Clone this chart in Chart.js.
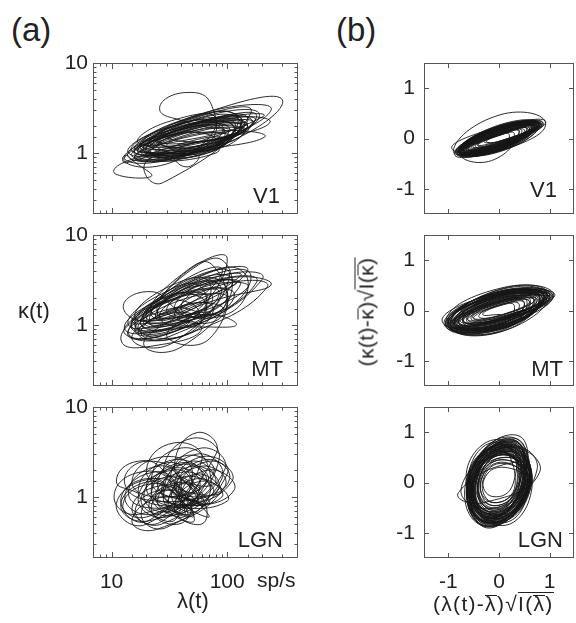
<!DOCTYPE html>
<html>
<head>
<meta charset="utf-8">
<script src="https://cdn.jsdelivr.net/npm/chart.js@4.4.1/dist/chart.umd.min.js"></script>
<style>
  body { margin: 0; background: #fff; }
  #fig { position: relative; width: 576px; height: 623px; overflow: hidden; font-family: 'Liberation Sans', Arial, Helvetica, sans-serif; color: #222; }
  .txt { position: absolute; white-space: nowrap; line-height: 1; }
  .bar, .sq { position: relative; }
  .bar::before, .sq::before { content: ''; position: absolute; left: 0; right: 0; border-top: 1px solid #222; }
  .bar::before { top: 0.15em; }
  .sq::before { top: 0.02em; }
</style>
</head>
<body>
<div id="fig">
  <div class="txt" style="left:11px;top:13px;font-size:33px;">(a)</div>
  <div class="txt" style="left:336px;top:13px;font-size:33px;">(b)</div>
  <div class="txt" style="left:18px;top:300px;font-size:22px;">κ(t)</div>
  <div class="txt" style="left:177px;top:590px;font-size:22px;">λ(t)</div>
  <div class="txt" style="left:257px;top:569px;font-size:21px;">sp/s</div>
  <div class="txt" style="left:433px;top:593px;font-size:21px;letter-spacing:1.3px;">(λ(t)-<span class="bar">λ</span>)√<span class="sq">I(<span class="bar">λ</span>)</span></div>
  <div class="txt" style="left:366px;top:312px;font-size:21px;letter-spacing:0.4px;transform:translate(-50%,-50%) rotate(-90deg);">(κ(t)-<span class="bar">κ</span>)√<span class="sq">I(<span class="bar">κ</span>)</span></div>
</div>
<script>
'use strict';

// (a) rate lambda (sp/s) against kappa, traced path per area, one loop per line
var v1Path = [
  [120,2.3],[35,1.9],[16,0.95],[60,1.05],
  [150,2.5],[45,2.0],[18,1.0],[70,1.15],
  [100,2.0],[30,1.75],[14,0.9],[50,1.0],
  [135,2.35],[42,2.0],[17,1.0],[62,1.1],
  [180,2.6],[60,2.2],[20,1.1],[80,1.2],
  [130,2.1],[40,1.7],[17,1.05],[65,1.25],
  [74,3.3],[44,4.7],[26,3.1],[45,2.2],
  [95,1.75],[32,1.55],[15,0.92],[48,1.0],
  [90,1.9],[28,1.6],[13,0.85],[45,0.95],
  [175,2.3],[58,2.05],[22,1.15],[85,1.2],
  [300,3.9],[60,2.7],[22,1.25],[140,1.7],
  [115,2.0],[38,1.8],[17,1.1],[58,1.15],
  [110,1.8],[35,1.55],[16,0.85],[55,0.95],
  [45,0.7],[28,0.95],[19,0.68],[28,0.47],
  [160,2.8],[50,2.4],[21,1.2],[78,1.3],
  [140,2.2],[50,1.9],[20,1.05],[75,1.1],
  [105,1.6],[36,1.4],[16,0.88],[52,0.92],
  [90,1.5],[25,1.05],[10.4,0.63],[22,0.55],
  [14.6,0.86],[13.5,0.95],[12.4,0.86],[13.5,0.78],
  [200,2.5],[70,2.3],[26,1.3],[100,1.3],
  [160,2.4],[55,2.1],[19,1.1],[80,1.1],
  [85,2.1],[28,1.85],[14,1.0],[42,1.05],
  [210,1.5],[80,1.75],[30,1.2],[90,1.15],
  [145,2.2],[48,1.95],[19,1.05],[72,1.1],
  [120,2.6],[40,2.3],[18,1.2],[60,1.3],
  [170,2.2],[60,2.0],[25,1.15],[90,1.2],
  [125,2.6],[40,2.25],[19,1.25],[64,1.35],
  [235,2.2],[80,2.4],[30,1.5],[110,1.5],
  [100,2.2],[30,1.9],[15,1.05],[50,1.15],
  [240,3.0],[70,2.9],[24,1.4],[110,1.5],
  [140,1.9],[45,1.6],[20,0.9],[80,1.0],
  [70,1.6],[24,1.4],[13,0.8],[38,0.85],
  [80,2.4],[30,2.2],[17,1.3],[45,1.4],
  [150,2.1],[52,1.85],[21,1.0],[76,1.05],
  [125,2.4],[40,2.1],[18,1.1],[70,1.2],
  [190,2.7],[60,2.5],[25,1.3],[95,1.4],
  [110,2.3],[36,2.0],[16,1.1],[56,1.2],
  [150,2.0],[50,1.75],[22,1.0],[75,1.05],
  [110,2.1],[35,1.85],[16,1.0],[60,1.1]
];
var mtPath = [
  [100,3.2],[30,2.0],[14,0.75],[45,1.0],
  [34,1.6],[21,2.35],[12.6,1.6],[21,1.14],
  [130,3.5],[45,2.6],[16,0.85],[55,1.1],
  [85,2.8],[30,2.2],[15,0.95],[42,1.1],
  [100,5.5],[40,3.5],[22,1.0],[70,1.8],
  [240,2.8],[90,3.2],[40,1.5],[110,1.4],
  [140,3.8],[55,3.4],[22,1.3],[65,1.5],
  [70,2.2],[22,1.5],[12.2,0.65],[30,0.62],
  [60,0.9],[35,1.1],[19,0.6],[40,0.57],
  [100,2.2],[38,2.0],[16,0.95],[50,0.95],
  [120,1.0],[60,1.3],[30,0.75],[70,0.7],
  [90,3.0],[28,2.0],[15,0.9],[45,1.05],
  [70,3.0],[30,2.6],[16,1.2],[40,1.4],
  [150,4.0],[60,3.5],[25,1.3],[70,1.6],
  [80,2.5],[25,1.7],[13,0.8],[40,0.9],
  [180,3.0],[70,3.0],[30,1.4],[85,1.4],
  [110,2.4],[40,2.1],[18,1.0],[55,1.0],
  [55,1.4],[26,1.4],[14,0.8],[32,0.75],
  [200,3.2],[80,3.4],[35,1.5],[90,1.5],
  [95,5.0],[45,3.8],[25,1.4],[60,2.0],
  [120,3.0],[45,2.6],[19,1.05],[58,1.25],
  [60,2.0],[28,2.0],[16,1.0],[35,0.95],
  [130,2.8],[50,2.6],[20,1.1],[60,1.2],
  [90,1.6],[38,1.6],[18,0.8],[45,0.78],
  [75,1.6],[35,1.5],[17,0.8],[40,0.75],
  [220,2.6],[90,2.8],[35,1.3],[90,1.25],
  [75,4.6],[40,3.6],[22,1.4],[50,1.8],
  [90,4.2],[40,3.0],[20,1.2],[50,1.5],
  [65,2.2],[26,1.9],[13,0.9],[33,0.95],
  [100,2.0],[40,1.9],[17,0.9],[50,0.85],
  [60,2.6],[25,2.1],[14,1.0],[33,1.1],
  [150,2.6],[60,2.6],[26,1.2],[70,1.15],
  [160,3.6],[60,3.2],[24,1.2],[70,1.4],
  [70,1.3],[30,1.3],[15,0.7],[35,0.65],
  [105,3.6],[42,3.0],[19,1.15],[58,1.45],
  [110,3.3],[40,2.7],[18,1.0],[55,1.3],
  [45,1.8],[25,1.7],[15,1.1],[28,1.05]
];
var lgnPath = [
  [60,1.2],[35,2.0],[17,1.0],[30,0.6],
  [90,1.6],[55,3.0],[28,1.2],[45,0.75],
  [55,1.1],[33,1.7],[18,0.95],[30,0.62],
  [45,0.9],[25,1.6],[11,0.85],[20,0.5],
  [80,3.0],[55,5.2],[35,2.3],[50,1.4],
  [80,1.5],[50,2.5],[27,1.2],[45,0.8],
  [115,1.2],[70,2.0],[40,1.0],[70,0.6],
  [42,1.2],[24,1.9],[13,1.0],[23,0.65],
  [40,1.5],[20,2.5],[13,1.4],[25,0.9],
  [70,1.2],[42,1.9],[24,1.0],[40,0.65],
  [50,0.7],[28,1.0],[15,0.55],[25,0.44],
  [95,1.3],[60,2.2],[33,1.05],[55,0.7],
  [70,2.0],[40,3.5],[22,1.6],[35,1.0],
  [50,1.5],[30,2.4],[17,1.2],[28,0.8],
  [100,0.9],[60,1.5],[35,0.75],[60,0.5],
  [62,0.95],[38,1.45],[21,0.8],[35,0.55],
  [35,1.3],[18,1.9],[10.5,1.0],[18,0.65],
  [75,1.8],[45,2.9],[25,1.4],[42,0.95],
  [85,1.3],[50,2.2],[28,1.0],[45,0.6],
  [38,0.95],[22,1.4],[12.5,0.8],[21,0.55],
  [60,2.5],[35,4.0],[20,2.0],[32,1.3],
  [88,1.1],[55,1.8],[31,0.9],[50,0.6],
  [45,0.8],[28,1.2],[16,0.7],[27,0.5],
  [58,1.3],[35,2.1],[19,1.05],[32,0.7],
  [95,2.0],[60,3.5],[32,1.6],[55,1.0],
  [105,1.6],[65,2.6],[36,1.25],[60,0.85],
  [70,0.9],[40,1.4],[22,0.75],[38,0.5],
  [48,0.9],[28,1.35],[15,0.75],[26,0.52],
  [50,1.8],[28,2.8],[15,1.5],[26,1.0],
  [68,1.5],[40,2.4],[22,1.2],[38,0.8],
  [110,1.5],[70,2.5],[38,1.2],[65,0.8],
  [40,1.0],[22,1.5],[12,0.8],[22,0.55],
  [65,1.4],[40,2.3],[22,1.1],[35,0.7],
  [85,2.6],[50,4.5],[28,2.0],[45,1.4],
  [55,0.8],[32,1.2],[18,0.65],[30,0.46],
  [100,1.8],[60,2.8],[35,1.3],[60,0.9],
  [45,1.4],[25,2.2],[14,1.1],[25,0.75],
  [75,1.1],[45,1.7],[25,0.9],[42,0.6],
  [35,1.1],[20,1.6],[12,0.9],[20,0.6],
  [60,1.6],[35,2.6],[20,1.3],[33,0.85],
  [90,1.0],[55,1.6],[30,0.8],[52,0.55],
  [30,1.8],[17,2.5],[11,1.5],[17,1.1]
];

// (b) normalised deviations, same areas
var v1Norm = [
  [0.75,0.27],[-0.04,0.17],[-0.75,-0.25],[0.04,-0.16],
  [0.70,0.24],[-0.03,0.08],[-0.70,-0.24],[0.03,-0.08],
  [0.76,0.24],[-0.08,0.22],[-0.76,-0.28],[0.08,-0.22],
  [0.60,0.20],[-0.03,0.07],[-0.62,-0.21],[0.03,-0.07],
  [0.70,0.25],[-0.05,0.15],[-0.72,-0.24],[0.05,-0.14],
  [0.68,0.28],[-0.06,0.20],[-0.70,-0.22],[0.06,-0.20],
  [0.50,0.17],[-0.02,0.06],[-0.52,-0.17],[0.02,-0.06],
  [0.82,0.30],[-0.06,0.19],[-0.80,-0.27],[0.06,-0.18],
  [0.60,0.22],[-0.03,0.12],[-0.62,-0.20],[0.03,-0.12],
  [0.75,0.26],[-0.04,0.10],[-0.76,-0.27],[0.04,-0.10],
  [0.80,0.30],[-0.07,0.23],[-0.80,-0.26],[0.07,-0.23],
  [0.92,0.30],[0.02,0.47],[-0.90,-0.24],[-0.05,-0.20],
  [0.78,0.26],[-0.05,0.20],[-0.78,-0.27],[-0.15,-0.44],
  [0.40,0.14],[-0.02,0.05],[-0.42,-0.13],[0.02,-0.05],
  [0.58,0.18],[-0.05,0.18],[-0.60,-0.22],[0.05,-0.18],
  [0.68,0.26],[-0.04,0.14],[-0.70,-0.22],[0.04,-0.13],
  [0.65,0.23],[-0.03,0.09],[-0.66,-0.23],[0.03,-0.09],
  [0.72,0.30],[-0.06,0.21],[-0.72,-0.24],[0.06,-0.21],
  [0.30,0.10],[-0.02,0.06],[-0.30,-0.06],[0.02,-0.06],
  [0.85,0.28],[-0.06,0.21],[-0.85,-0.30],[0.05,-0.20],
  [0.55,0.19],[-0.03,0.08],[-0.55,-0.18],[0.03,-0.08],
  [0.84,0.26],[-0.07,0.20],[-0.82,-0.30],[0.07,-0.22],
  [0.72,0.24],[-0.04,0.16],[-0.74,-0.26],[0.04,-0.16],
  [0.92,0.34],[-0.10,0.20],[-0.93,-0.20],[0.10,-0.22],
  [0.80,0.28],[-0.04,0.11],[-0.80,-0.28],[0.04,-0.11],
  [0.64,0.22],[-0.05,0.19],[-0.64,-0.24],[0.05,-0.18],
  [0.65,0.25],[-0.05,0.13],[-0.66,-0.22],[0.05,-0.13],
  [0.78,0.31],[-0.08,0.24],[-0.78,-0.26],[0.08,-0.24],
  [0.80,0.28],[-0.05,0.18],[-0.82,-0.28],[0.05,-0.18],
  [0.45,0.16],[-0.04,0.12],[-0.46,-0.16],[0.04,-0.12],
  [0.55,0.20],[-0.03,0.11],[-0.58,-0.19],[0.03,-0.10],
  [0.70,0.24],[-0.06,0.20],[-0.70,-0.24],[0.06,-0.20],
  [0.76,0.30],[-0.06,0.17],[-0.76,-0.25],[0.05,-0.15],
  [0.40,0.14],[-0.03,0.10],[-0.42,-0.14],[0.03,-0.10],
  [0.88,0.30],[-0.07,0.22],[-0.88,-0.32],[0.07,-0.20],
  [0.74,0.28],[-0.07,0.22],[-0.76,-0.26],[0.07,-0.22],
  [0.70,0.22],[-0.04,0.15],[-0.70,-0.25],[0.04,-0.15],
  [0.62,0.24],[-0.04,0.14],[-0.64,-0.21],[0.04,-0.12],
  [0.78,0.27],[-0.05,0.18],[-0.80,-0.27],[0.05,-0.17],
  [0.20,0.08],[-0.02,0.06],[-0.25,-0.06],[0.02,-0.05],
  [0.84,0.30],[-0.06,0.19],[-0.84,-0.28],[0.06,-0.19],
  [0.74,0.26],[-0.04,0.16],[-0.74,-0.25],[0.04,-0.15],
  [0.66,0.23],[-0.05,0.14],[-0.68,-0.24],[0.05,-0.14],
  [0.86,0.32],[-0.06,0.20],[-0.86,-0.28],[0.06,-0.19],
  [0.72,0.27],[-0.05,0.16],[-0.72,-0.26],[0.05,-0.16]
];
var mtNorm = [
  [1.00,0.30],[-0.08,0.28],[-1.00,-0.26],[0.08,-0.28],
  [0.90,0.27],[-0.04,0.14],[-0.90,-0.27],[0.04,-0.14],
  [0.90,0.30],[-0.09,0.34],[-0.90,-0.30],[0.09,-0.34],
  [0.90,0.28],[-0.07,0.24],[-0.92,-0.24],[0.07,-0.25],
  [0.75,0.22],[-0.04,0.12],[-0.76,-0.22],[0.04,-0.12],
  [1.10,0.32],[-0.10,0.32],[-1.12,-0.22],[0.10,-0.32],
  [0.78,0.22],[-0.07,0.28],[-0.80,-0.24],[0.07,-0.28],
  [0.60,0.18],[-0.03,0.10],[-0.62,-0.18],[0.03,-0.10],
  [0.70,0.22],[-0.05,0.18],[-0.72,-0.20],[0.05,-0.18],
  [0.95,0.36],[-0.05,0.40],[-0.95,-0.30],[0.05,-0.42],
  [1.00,0.30],[-0.05,0.17],[-1.00,-0.30],[0.05,-0.17],
  [1.00,0.26],[-0.08,0.36],[-1.00,-0.30],[0.08,-0.36],
  [0.85,0.24],[-0.08,0.26],[-0.88,-0.28],[0.08,-0.24],
  [0.85,0.26],[-0.05,0.18],[-0.86,-0.26],[0.05,-0.18],
  [1.05,0.28],[-0.06,0.30],[-1.05,-0.28],[0.06,-0.30],
  [0.62,0.20],[-0.06,0.22],[-0.64,-0.20],[0.06,-0.22],
  [0.40,0.12],[-0.03,0.10],[-0.40,-0.12],[0.03,-0.10],
  [0.70,0.21],[-0.04,0.15],[-0.70,-0.21],[0.04,-0.15],
  [0.95,0.30],[-0.08,0.32],[-0.98,-0.26],[0.08,-0.30],
  [0.95,0.32],[-0.09,0.38],[-0.96,-0.30],[0.09,-0.40],
  [0.80,0.26],[-0.06,0.22],[-0.80,-0.24],[0.06,-0.22],
  [0.95,0.29],[-0.05,0.20],[-0.95,-0.29],[0.05,-0.20],
  [1.08,0.30],[0.10,0.46],[-1.05,-0.20],[-0.10,-0.44],
  [0.72,0.24],[-0.06,0.26],[-0.72,-0.22],[0.06,-0.26],
  [0.50,0.15],[-0.03,0.09],[-0.50,-0.15],[0.03,-0.09],
  [0.60,0.18],[-0.05,0.16],[-0.62,-0.18],[0.05,-0.16],
  [0.92,0.27],[-0.07,0.28],[-0.92,-0.28],[0.07,-0.28],
  [1.06,0.30],[-0.09,0.34],[-1.08,-0.28],[0.09,-0.34],
  [0.80,0.24],[-0.04,0.16],[-0.80,-0.24],[0.04,-0.16],
  [1.00,0.34],[-0.08,0.30],[-1.00,-0.22],[0.08,-0.34],
  [0.55,0.18],[-0.05,0.17],[-0.55,-0.16],[0.05,-0.17],
  [0.75,0.22],[-0.06,0.22],[-0.78,-0.24],[0.06,-0.20],
  [0.98,0.28],[-0.09,0.34],[-1.02,-0.26],[0.09,-0.34],
  [0.88,0.28],[-0.08,0.32],[-0.88,-0.28],[0.08,-0.32],
  [0.88,0.30],[-0.06,0.26],[-0.88,-0.26],[0.06,-0.26],
  [0.50,0.16],[-0.04,0.13],[-0.52,-0.14],[0.04,-0.13],
  [1.05,0.32],[-0.08,0.36],[-1.05,-0.30],[0.08,-0.36],
  [0.80,0.28],[-0.07,0.30],[-0.82,-0.26],[0.07,-0.30],
  [0.82,0.24],[-0.06,0.24],[-0.84,-0.26],[0.06,-0.24],
  [0.95,0.28],[-0.07,0.30],[-0.95,-0.24],[0.07,-0.30],
  [0.68,0.22],[-0.05,0.20],[-0.70,-0.20],[0.05,-0.19],
  [1.02,0.30],[-0.08,0.30],[-1.02,-0.30],[0.08,-0.32],
  [0.86,0.26],[-0.07,0.26],[-0.86,-0.26],[0.07,-0.26],
  [0.30,0.10],[-0.03,0.08],[-0.32,-0.08],[0.03,-0.08]
];
var lgnNorm = [
  [0.20,0.80],[-0.55,0.05],[-0.20,-0.80],[0.55,-0.05],
  [0.14,0.55],[-0.40,0.05],[-0.14,-0.55],[0.40,-0.05],
  [0.00,0.85],[-0.65,0.10],[0.00,-0.85],[0.65,-0.10],
  [0.18,0.72],[-0.50,0.06],[-0.18,-0.72],[0.50,-0.06],
  [0.15,0.70],[-0.50,0.00],[-0.18,-0.72],[0.50,0.02],
  [-0.10,0.80],[-0.60,-0.10],[0.10,-0.80],[0.60,0.10],
  [0.18,0.62],[-0.45,0.06],[-0.18,-0.64],[0.45,-0.06],
  [0.22,0.80],[-0.56,0.08],[-0.22,-0.80],[0.56,-0.08],
  [0.25,0.90],[-0.60,0.10],[-0.25,-0.88],[0.60,-0.08],
  [0.12,0.45],[-0.35,0.04],[-0.12,-0.46],[0.35,-0.04],
  [0.05,0.75],[-0.64,0.02],[-0.05,-0.78],[0.64,-0.02],
  [0.16,0.64],[-0.52,0.03],[-0.16,-0.66],[0.52,-0.03],
  [0.10,0.55],[-0.40,0.02],[-0.12,-0.55],[0.40,0.00],
  [0.30,0.40],[-0.80,-0.20],[-0.30,-0.40],[0.80,0.20],
  [0.20,0.70],[-0.42,0.10],[-0.20,-0.70],[0.42,-0.10],
  [0.24,0.76],[-0.60,0.10],[-0.24,-0.78],[0.60,-0.10],
  [0.22,0.78],[-0.58,0.08],[-0.20,-0.82],[0.56,-0.06],
  [0.10,0.38],[-0.32,0.03],[-0.10,-0.40],[0.32,-0.03],
  [-0.05,0.70],[-0.62,-0.05],[0.05,-0.72],[0.62,0.05],
  [0.14,0.50],[-0.44,0.04],[-0.14,-0.52],[0.44,-0.04],
  [0.18,0.65],[-0.48,0.04],[-0.16,-0.66],[0.48,-0.02],
  [0.35,0.94],[-0.55,0.20],[-0.30,-0.85],[0.62,-0.10],
  [0.16,0.58],[-0.40,0.05],[-0.16,-0.58],[0.40,-0.05],
  [0.20,0.68],[-0.54,0.05],[-0.20,-0.68],[0.54,-0.05],
  [0.12,0.30],[-0.30,0.05],[-0.12,-0.28],[0.28,-0.02],
  [0.20,0.75],[-0.62,0.00],[-0.22,-0.76],[0.60,0.00],
  [0.22,0.66],[-0.48,0.08],[-0.22,-0.68],[0.48,-0.08],
  [0.26,0.86],[-0.58,0.12],[-0.26,-0.86],[0.58,-0.12],
  [0.00,0.62],[-0.58,0.04],[0.00,-0.64],[0.58,-0.04],
  [0.25,0.85],[-0.50,0.10],[-0.25,-0.90],[0.50,-0.10],
  [0.12,0.40],[-0.36,0.03],[-0.12,-0.40],[0.36,-0.03],
  [0.15,0.60],[-0.55,-0.05],[-0.15,-0.62],[0.55,0.05],
  [0.14,0.50],[-0.38,0.04],[-0.14,-0.50],[0.38,-0.04],
  [0.22,0.74],[-0.56,0.06],[-0.22,-0.76],[0.56,-0.06],
  [0.20,0.72],[-0.52,0.06],[-0.20,-0.70],[0.52,-0.04],
  [0.05,0.55],[-0.75,-0.15],[-0.05,-0.50],[0.75,0.25],
  [0.24,0.72],[-0.50,0.10],[-0.24,-0.74],[0.50,-0.10],
  [-0.08,0.66],[-0.56,-0.06],[0.08,-0.68],[0.56,0.06],
  [0.18,0.62],[-0.48,0.04],[-0.18,-0.62],[0.48,-0.04],
  [0.28,0.82],[-0.58,0.12],[-0.26,-0.80],[0.58,-0.10],
  [0.18,0.68],[-0.46,0.04],[-0.18,-0.70],[0.46,-0.03],
  [0.24,0.82],[-0.60,0.08],[-0.24,-0.80],[0.60,-0.08],
  [0.22,0.76],[-0.60,0.06],[-0.22,-0.78],[0.60,-0.05],
  [0.10,0.45],[-0.42,0.00],[-0.10,-0.46],[0.42,0.00],
  [0.16,0.56],[-0.50,0.02],[-0.16,-0.58],[0.50,-0.02],
  [0.24,0.80],[-0.54,0.08],[-0.24,-0.84],[0.54,-0.08],
  [0.16,0.62],[-0.50,0.02],[-0.16,-0.64],[0.50,-0.02],
  [0.30,0.88],[-0.62,0.12],[-0.30,-0.86],[0.62,-0.12],
  [0.20,0.74],[-0.56,0.05],[-0.20,-0.74],[0.56,-0.05],
  [0.14,0.58],[-0.46,0.02],[-0.14,-0.60],[0.46,-0.02],
  [0.26,0.84],[-0.58,0.10],[-0.26,-0.82],[0.58,-0.08],
  [0.20,0.70],[-0.52,0.04],[-0.20,-0.72],[0.52,-0.04]
];

var rateTicks = [10, 100];
var kappaTicks = [1, 10];
var normTicks = [-1, 0, 1];
var areaNames = ['V1', 'MT', 'LGN'];

var FONT = "'Liberation Sans', Arial, Helvetica, sans-serif";
var PAD_TOP = 14;

// box frame with inward ticks on all four sides, plus the area name
var frameTicks = {
  id: 'frameTicks',
  afterDraw: function (chart, args, opts) {
    var ctx = chart.ctx, a = chart.chartArea;
    var sx = chart.scales.x, sy = chart.scales.y;
    function len(v) {
      if (!opts.log) return 5;
      var l = Math.log10(v);
      return Math.abs(l - Math.round(l)) < 1e-6 ? 6 : 3.5;
    }
    ctx.save();
    ctx.strokeStyle = '#555';
    ctx.lineWidth = 1;
    ctx.beginPath();
    sx.ticks.forEach(function (t) {
      var p = Math.round(sx.getPixelForValue(t.value)) + 0.5;
      if (p < a.left + 2 || p > a.right - 2) return;
      ctx.moveTo(p, a.bottom); ctx.lineTo(p, a.bottom - len(t.value));
      ctx.moveTo(p, a.top); ctx.lineTo(p, a.top + len(t.value));
    });
    sy.ticks.forEach(function (t) {
      var p = Math.round(sy.getPixelForValue(t.value)) + 0.5;
      if (p < a.top + 2 || p > a.bottom - 2) return;
      ctx.moveTo(a.left, p); ctx.lineTo(a.left + len(t.value), p);
      ctx.moveTo(a.right, p); ctx.lineTo(a.right - len(t.value), p);
    });
    ctx.stroke();
    ctx.strokeRect(a.left + 0.5, a.top + 0.5, a.width - 1, a.height - 1);
    ctx.fillStyle = '#222';
    ctx.font = '22px ' + FONT;
    ctx.textAlign = 'right';
    ctx.textBaseline = 'alphabetic';
    ctx.fillText(opts.name, a.right - opts.inset, a.bottom - opts.up);
    ctx.restore();
  }
};

function labelIf(list) {
  return function (v) {
    for (var i = 0; i < list.length; i++) {
      if (Math.abs(list[i] - v) < 1e-9) return String(list[i]);
    }
    return '';
  };
}

function fixSize(size, horizontal) {
  return function (s) {
    if (horizontal) s.height = size; else s.width = size;
    s.paddingLeft = 0; s.paddingRight = 0; s.paddingTop = 0; s.paddingBottom = 0;
  };
}

// linear panels get exactly the listed ticks
function fixedTicks(list) {
  return function (s) {
    s.ticks = list.map(function (v) { return { value: v }; });
  };
}

function addPanel(p) {
  var xh = p.showX ? 42 : 0;
  var padBottom = p.showX ? 0 : 12;
  var w = p.yw + p.plotW;
  var h = PAD_TOP + p.plotH + xh + padBottom;
  var c = document.createElement('canvas');
  c.width = w; c.height = h;
  c.style.cssText = 'position:absolute;left:' + (p.plotLeft - p.yw) + 'px;top:' + (p.plotTop - PAD_TOP) +
    'px;width:' + w + 'px;height:' + h + 'px;';
  var fig = document.getElementById('fig');
  fig.insertBefore(c, fig.firstChild);

  var tickFont = { family: FONT, size: 21 };
  new Chart(c, {
    type: 'scatter',
    data: {
      datasets: [{
        data: p.data,
        showLine: true,
        borderColor: '#151515',
        borderWidth: 0.9,
        pointRadius: 0,
        tension: 0.55,
        fill: false
      }]
    },
    options: {
      responsive: false,
      animation: false,
      events: [],
      layout: { padding: { top: PAD_TOP, bottom: padBottom, left: 0, right: 0 } },
      plugins: {
        legend: { display: false },
        tooltip: { enabled: false },
        frameTicks: { name: p.name, inset: p.inset, up: p.up, log: p.log }
      },
      scales: {
        x: {
          type: p.log ? 'logarithmic' : 'linear',
          min: p.xMin, max: p.xMax,
          grid: { display: false, drawTicks: false },
          border: { display: false },
          ticks: {
            display: p.showX, autoSkip: false, maxRotation: 0, minRotation: 0,
            padding: 12, color: '#222', font: tickFont,
            callback: labelIf(p.xLabels)
          },
          afterBuildTicks: p.log ? undefined : fixedTicks(p.xLabels),
          afterFit: fixSize(xh, true)
        },
        y: {
          type: p.log ? 'logarithmic' : 'linear',
          position: 'left',
          min: p.yMin, max: p.yMax,
          grid: { display: false, drawTicks: false },
          border: { display: false },
          ticks: {
            autoSkip: false, padding: p.log ? 5 : 9, color: '#222', font: tickFont,
            callback: labelIf(p.yLabels)
          },
          afterBuildTicks: p.log ? undefined : fixedTicks(p.yLabels),
          afterFit: fixSize(p.yw, false)
        }
      }
    },
    plugins: [frameTicks]
  });
}

var rowTops = [63, 235, 407];
var leftData = [v1Path, mtPath, lgnPath];
var rightData = [v1Norm, mtNorm, lgnNorm];
var leftName = [[18, 11], [15, 10], [15, 11]];
var rightName = [[17, 17], [11, 10], [11, 11]];

for (var r = 0; r < 3; r++) {
  addPanel({
    plotLeft: 93, plotTop: rowTops[r], plotW: 205, plotH: 151, yw: 60,
    showX: r === 2, log: true, data: leftData[r],
    xMin: 6.9, xMax: 410, yMin: 0.21, yMax: 10,
    xLabels: rateTicks, yLabels: kappaTicks,
    name: areaNames[r], inset: leftName[r][0], up: leftName[r][1]
  });
  addPanel({
    plotLeft: 424, plotTop: rowTops[r], plotW: 150, plotH: 151, yw: 50,
    showX: r === 2, log: false, data: rightData[r],
    xMin: -1.48, xMax: 1.48, yMin: -1.5, yMax: 1.5,
    xLabels: normTicks, yLabels: normTicks,
    name: areaNames[r], inset: rightName[r][0], up: rightName[r][1]
  });
}
</script>
</body>
</html>
